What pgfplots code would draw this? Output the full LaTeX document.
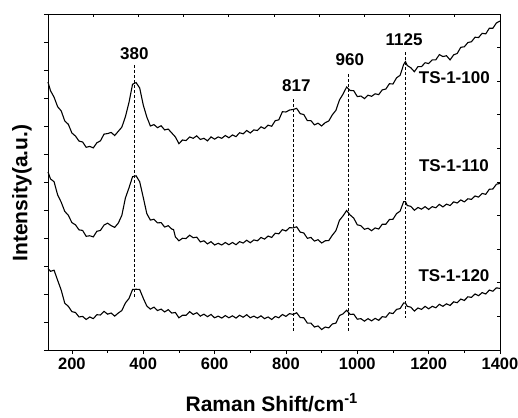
\documentclass[border=0pt]{standalone}
\usepackage{fontspec}
\setmainfont{Liberation Sans}
\usepackage{pgfplots}
\pgfplotsset{compat=1.18}
\begin{document}
\begin{tikzpicture}
\path[use as bounding box] (-48bp,-68bp) rectangle (470bp,350bp);
\begin{axis}[
  at={(0,0)}, anchor=south west,
  scale only axis, width=452bp, height=336bp,
  xmin=133, xmax=1400, ymin=0, ymax=12,
  xtick={200,400,...,1400}, minor x tick num=1,
  ytick={0,1,...,12}, yticklabels={},
  xtick pos=bottom, ytick pos=left,
  tick align=outside,
  major tick length=4bp, minor tick length=2.5bp,
  axis line style={line width=0.9bp},
  every tick/.style={line width=0.8bp, black},
  /pgf/number format/assume math mode=true,
  /pgf/number format/1000 sep={},
  ticklabel style={font=\bfseries\fontsize{16.5bp}{18bp}\selectfont},
  xticklabel style={yshift=-0.5bp},
  clip=false,
]
% TS-1-100
\addplot[black, line width=1.1bp] coordinates {
(133,9.57)(140,9.26)(150,9.03)(160,8.69)(170,8.54)(180,8.18)(190,8.06)(200,7.75)(210,7.64)(220,7.46)
(230,7.43)(240,7.24)(250,7.27)(260,7.22)(270,7.40)(280,7.47)(290,7.71)(300,7.73)(310,7.77)(320,7.66)
(330,7.81)(340,7.96)(350,8.33)(360,8.84)(370,9.49)(380,9.55)(390,9.36)(400,8.75)(410,8.32)(420,8.00)
(430,8.05)(440,7.94)(450,8.01)(460,7.86)(470,7.89)(480,7.75)(490,7.61)(500,7.37)(510,7.50)(520,7.48)
(530,7.61)(540,7.56)(550,7.65)(560,7.52)(570,7.56)(580,7.47)(590,7.61)(600,7.53)(610,7.61)(620,7.56)
(630,7.66)(640,7.58)(650,7.68)(660,7.62)(670,7.76)(680,7.72)(690,7.84)(700,7.75)(710,7.86)(720,7.84)
(730,7.97)(740,7.91)(750,8.03)(760,7.99)(770,8.19)(780,8.22)(790,8.51)(800,8.50)(810,8.57)(820,8.59)
(830,8.63)(840,8.44)(850,8.41)(860,8.19)(870,8.19)(880,8.04)(890,8.10)(900,8.00)(910,8.12)(920,8.18)
(930,8.40)(940,8.56)(950,8.93)(960,9.14)(970,9.39)(980,9.27)(990,9.26)(1000,9.05)(1010,9.07)(1020,8.98)
(1030,9.10)(1040,9.06)(1050,9.15)(1060,9.12)(1070,9.29)(1080,9.32)(1090,9.51)(1100,9.50)(1110,9.72)(1120,9.81)
(1130,10.20)(1135,10.30)(1140,10.16)(1150,10.08)(1160,9.94)(1170,10.12)(1180,10.12)(1190,10.26)(1200,10.23)(1210,10.36)
(1220,10.36)(1230,10.55)(1240,10.48)(1250,10.51)(1260,10.36)(1270,10.54)(1280,10.59)(1290,10.81)(1300,10.83)(1310,10.98)
(1320,11.01)(1330,11.17)(1340,11.16)(1350,11.31)(1360,11.29)(1370,11.49)(1380,11.49)(1390,11.68)(1400,11.75)
};
% TS-1-110
\addplot[black, line width=1.1bp] coordinates {
(133,6.36)(140,6.11)(150,6.01)(160,5.54)(170,5.28)(180,4.95)(190,4.81)(200,4.55)(210,4.47)(220,4.29)
(230,4.27)(240,4.06)(250,4.08)(260,4.04)(270,4.24)(280,4.27)(290,4.46)(300,4.53)(310,4.44)(320,4.38)
(330,4.53)(340,4.81)(350,5.43)(360,5.79)(370,6.19)(380,6.22)(390,6.01)(400,5.45)(410,4.87)(420,4.64)
(430,4.67)(440,4.54)(450,4.55)(460,4.39)(470,4.44)(480,4.32)(485,4.30)(490,4.04)(500,3.90)(510,3.99)(520,3.98)
(530,4.10)(540,4.01)(550,4.03)(560,3.86)(570,3.90)(580,3.79)(590,3.87)(600,3.75)(610,3.81)(620,3.75)
(630,3.84)(640,3.76)(650,3.84)(660,3.76)(670,3.87)(680,3.82)(690,3.92)(700,3.83)(710,3.93)(720,3.90)
(730,4.02)(740,3.96)(750,4.07)(760,4.02)(770,4.17)(780,4.15)(790,4.30)(800,4.25)(810,4.37)(820,4.36)
(830,4.40)(840,4.21)(850,4.18)(860,3.99)(870,4.02)(880,3.89)(890,3.94)(900,3.82)(910,3.90)(920,3.91)
(930,4.10)(940,4.26)(950,4.63)(960,4.79)(970,4.98)(980,4.82)(990,4.71)(1000,4.47)(1010,4.44)(1020,4.31)
(1030,4.35)(1040,4.26)(1050,4.36)(1060,4.32)(1070,4.49)(1080,4.49)(1090,4.66)(1100,4.67)(1110,4.87)(1120,4.96)
(1130,5.30)(1135,5.30)(1140,5.16)(1150,5.13)(1160,4.99)(1170,5.09)(1180,5.03)(1190,5.12)(1200,5.02)(1210,5.12)
(1220,5.08)(1230,5.20)(1240,5.11)(1250,5.21)(1260,5.16)(1270,5.29)(1280,5.25)(1290,5.36)(1300,5.29)(1310,5.40)
(1320,5.38)(1330,5.50)(1340,5.46)(1350,5.59)(1360,5.56)(1370,5.74)(1380,5.75)(1390,5.92)(1400,5.95)
};
% TS-1-120
\addplot[black, line width=1.1bp] coordinates {
(133,2.91)(140,2.81)(150,2.85)(160,2.49)(170,2.14)(180,1.67)(190,1.56)(200,1.37)(210,1.34)(220,1.18)
(230,1.20)(240,1.09)(250,1.18)(260,1.12)(270,1.26)(280,1.25)(290,1.38)(300,1.28)(310,1.32)(320,1.21)
(330,1.32)(340,1.41)(350,1.68)(360,1.84)(370,2.16)(380,2.17)(390,2.16)(400,1.85)(410,1.57)(420,1.46)
(430,1.53)(440,1.41)(450,1.46)(460,1.36)(470,1.44)(480,1.32)(490,1.34)(500,1.15)(510,1.24)(520,1.24)
(530,1.37)(540,1.27)(550,1.33)(560,1.21)(570,1.28)(580,1.19)(590,1.27)(600,1.15)(610,1.21)(620,1.14)
(630,1.23)(640,1.15)(650,1.22)(660,1.14)(670,1.24)(680,1.17)(690,1.26)(700,1.15)(710,1.21)(720,1.14)
(730,1.22)(740,1.12)(750,1.18)(760,1.09)(770,1.20)(780,1.15)(790,1.27)(800,1.20)(810,1.30)(820,1.27)
(830,1.33)(840,1.16)(850,1.15)(860,0.96)(870,0.96)(880,0.82)(890,0.86)(900,0.73)(910,0.82)(920,0.79)
(930,0.93)(940,0.96)(950,1.23)(960,1.29)(970,1.42)(980,1.27)(990,1.28)(1000,1.10)(1010,1.12)(1020,1.03)
(1030,1.12)(1040,1.04)(1050,1.13)(1060,1.06)(1070,1.19)(1080,1.17)(1090,1.33)(1100,1.30)(1110,1.45)(1120,1.48)
(1130,1.68)(1135,1.67)(1140,1.56)(1150,1.53)(1160,1.39)(1170,1.50)(1180,1.45)(1190,1.56)(1200,1.47)(1210,1.56)
(1220,1.51)(1230,1.63)(1240,1.56)(1250,1.65)(1260,1.59)(1270,1.72)(1280,1.69)(1290,1.82)(1300,1.77)(1310,1.90)
(1320,1.88)(1330,2.00)(1340,1.94)(1350,2.05)(1360,2.00)(1370,2.14)(1380,2.10)(1390,2.22)(1400,2.20)
};
% dashed markers
\addplot[black, densely dashed, line width=0.6bp] coordinates {(374,10.18)(374,1.86)};
\addplot[black, densely dashed, line width=0.6bp] coordinates {(820,8.96)(820,0.61)};
\addplot[black, densely dashed, line width=0.6bp] coordinates {(975,9.86)(975,0.61)};
\addplot[black, densely dashed, line width=0.6bp] coordinates {(1135,10.64)(1135,1.14)};
% annotations
\tikzset{lab/.style={font=\bfseries\fontsize{17bp}{19bp}\selectfont, inner sep=0pt}}
\node[lab] at (axis cs:375,10.57) {380};
\node[lab] at (axis cs:829,9.43) {817};
\node[lab] at (axis cs:979,10.36) {960};
\node[lab] at (axis cs:1131,11.07) {1125};
\node[lab] at (axis cs:1272,9.74) {TS-1-100};
\node[lab] at (axis cs:1271,6.57) {TS-1-110};
\node[lab] at (axis cs:1271,2.64) {TS-1-120};
% axis labels
\node[font=\bfseries\fontsize{21bp}{23bp}\selectfont, inner sep=0pt, rotate=90]
  at ([xshift=-26bp]rel axis cs:0,0.467) {Intensity(a.u.)};
\node[font=\bfseries\fontsize{21bp}{23bp}\selectfont, inner sep=0pt, anchor=base]
  at ([yshift=-61bp]rel axis cs:0.495,0) {Raman Shift/cm\textsuperscript{-1}};
\end{axis}
\begin{axis}[
  at={(0,0)}, anchor=south west,
  scale only axis, width=452bp, height=336bp,
  xmin=0, xmax=10, ymin=0, ymax=10,
  xtick={0,1,...,10}, ytick={0,1,...,10},
  xticklabels={}, yticklabels={},
  xtick pos=top, ytick pos=right,
  tick align=inside, major tick length=3bp,
  axis line style={line width=0.9bp},
  every tick/.style={line width=0.8bp, black},
]
\end{axis}
\end{tikzpicture}
\end{document}
